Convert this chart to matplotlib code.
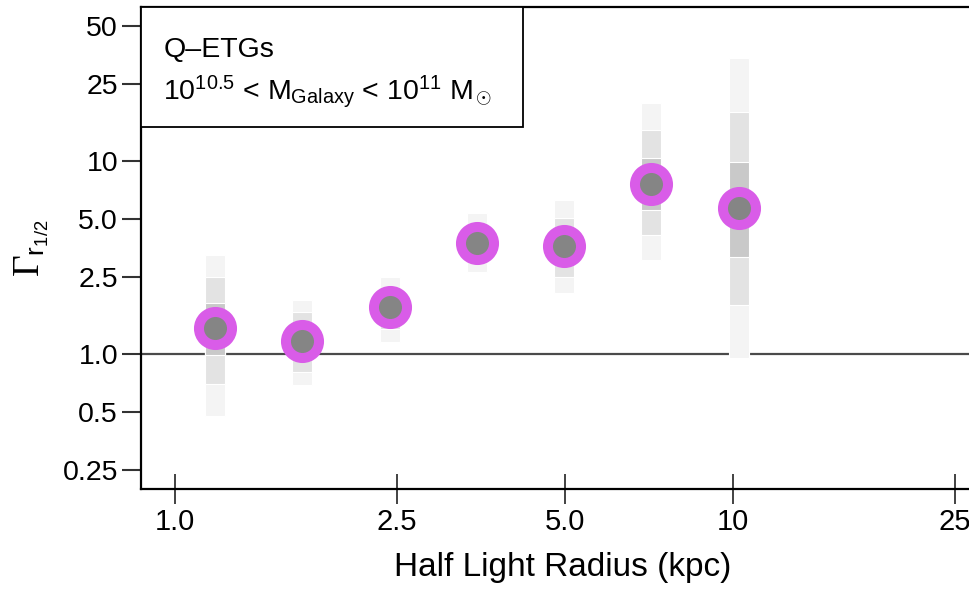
import numpy as np
import matplotlib
matplotlib.use("Agg")
import matplotlib.pyplot as plt
from matplotlib.patches import Rectangle
from matplotlib.ticker import FixedLocator, FixedFormatter, NullLocator

plt.rcParams['font.family'] = ['Liberation Sans', 'DejaVu Sans']
plt.rcParams['mathtext.fontset'] = 'custom'
plt.rcParams['mathtext.rm'] = 'Liberation Serif'
plt.rcParams['mathtext.sf'] = 'Liberation Sans'
plt.rcParams['mathtext.it'] = 'Liberation Serif:italic'

# Half light radius bins (kpc) and median Gamma per bin
radius = [1.18, 1.69, 2.43, 3.48, 4.99, 7.14, 10.25]
gamma = [1.36, 1.17, 1.75, 3.76, 3.63, 7.6, 5.71]

# Credible intervals: outer, middle, inner
outer_lo = [0.48, 0.69, 1.15, 2.66, 2.07, 3.07, 0.95]
outer_hi = [3.26, 1.90, 2.50, 5.38, 6.28, 19.9, 34.2]
mid_lo = [0.70, 0.81, 1.35, 3.05, 2.50, 4.14, 1.79]
mid_hi = [2.50, 1.65, 2.20, 4.60, 5.07, 14.5, 17.9]
inner_lo = [0.99, 0.97, 1.50, 3.30, 3.00, 5.57, 3.18]
inner_hi = [1.84, 1.40, 2.00, 4.20, 4.30, 10.4, 9.9]

xticks = [1.0, 2.5, 5.0, 10, 25]
xticklabels = ["1.0", "2.5", "5.0", "10", "25"]
yticks = [0.25, 0.5, 1.0, 2.5, 5.0, 10, 25, 50]
yticklabels = ["0.25", "0.5", "1.0", "2.5", "5.0", "10", "25", "50"]

fig = plt.figure(figsize=(9.69, 5.90), dpi=100)
ax = fig.add_axes([141 / 969, 101 / 590, 858 / 969, 482 / 590])
ax.set_xscale('log')
ax.set_yscale('log')
ax.set_xlim(0.87, 30)
ax.set_ylim(0.2, 62.8)

# reference line at Gamma = 1
ax.axhline(1.0, color='#4a4a4a', lw=1.6, zorder=1)

# shaded interval bars
hw = 0.018  # half width in decades
x = np.array(radius)
left = x * 10 ** (-hw)
width = x * 10 ** hw - left
bands = [(outer_lo, outer_hi, '#f4f4f4'),
         (mid_lo, mid_hi, '#e3e3e3'),
         (inner_lo, inner_hi, '#c9c9c9')]
for lo, hi, c in bands:
    lo = np.array(lo)
    hi = np.array(hi)
    ax.bar(left, hi - lo, width=width, bottom=lo, align='edge', color=c,
           edgecolor='white', linewidth=0.8, zorder=2)

ax.plot(radius, gamma, linestyle='none', marker='o', ms=23.8, mew=7.2,
        mfc='#858585', mec='#d95ce8', zorder=4)

# axes styling
for side in ['left', 'bottom', 'top']:
    ax.spines[side].set_linewidth(1.6)
    ax.spines[side].set_color('black')
ax.spines['right'].set_visible(False)

ax.xaxis.set_major_locator(FixedLocator(xticks))
ax.xaxis.set_major_formatter(FixedFormatter(xticklabels))
ax.xaxis.set_minor_locator(NullLocator())
ax.yaxis.set_major_locator(FixedLocator(yticks))
ax.yaxis.set_major_formatter(FixedFormatter(yticklabels))
ax.yaxis.set_minor_locator(NullLocator())

ax.tick_params(axis='y', direction='out', length=13.5, width=1.5,
               color='#333333', labelsize=20.5, pad=3)
ax.tick_params(axis='x', direction='inout', length=22, width=1.2,
               color='#222222', labelsize=21, pad=3)

ax.set_xlabel('Half Light Radius (kpc)', fontsize=24)
ax.xaxis.set_label_coords(0.492, -0.13)
ax.set_ylabel(r'$\Gamma_{\mathsf{r}_{\mathsf{1/2}}}$', fontsize=27, labelpad=8)

# label box
ax.add_patch(Rectangle((0, 0.751), 0.445, 0.249, transform=ax.transAxes,
                       facecolor='white', edgecolor='black', lw=1.3,
                       zorder=5, clip_on=False))
ax.text(0.026, 0.91, 'Q\u2013ETGs', transform=ax.transAxes, fontsize=20.5,
        va='center', ha='left', zorder=6)
ax.text(0.026, 0.825,
        r'$\mathsf{10^{10.5}}$ < M$_\mathsf{Galaxy}$ < $\mathsf{10^{11}}$ M$_\odot$',
        transform=ax.transAxes, fontsize=20.5, va='center', ha='left', zorder=6)

fig.savefig('out.png', dpi=100)
